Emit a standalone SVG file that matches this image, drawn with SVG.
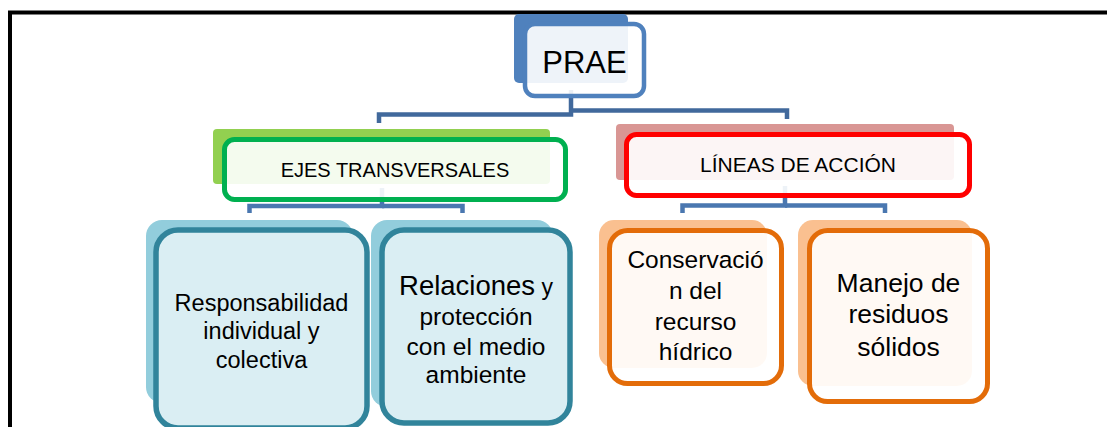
<svg xmlns="http://www.w3.org/2000/svg" width="1107" height="427" viewBox="0 0 1107 427">
<style>
  text { font-family: "Liberation Sans", Arial, sans-serif; fill: #000; text-anchor: middle; }
  .conn { fill: none; stroke-width: 4.5; stroke-linejoin: miter; }
  .top { stroke: #41699C; }
  .low { stroke: #4A77B0; }
  .front { fill: #FFFFFF; fill-opacity: 0.9; stroke-width: 4.5; }
  .front5 { stroke-width: 5; }
</style>
<rect x="0" y="0" width="1107" height="427" fill="#FFFFFF"/>
<path d="M10,440 V12.5 H1115" fill="none" stroke="#000" stroke-width="4"/>

<g id="connectors">
  <path class="conn top" d="M571,90 V114.5 H379 V123"/>
  <path class="conn top" d="M571,110.5 H787 V119"/>
  <path class="conn low" d="M382,188 V206 H249.5 V213"/>
  <path class="conn low" d="M382,206 H462.5 V213"/>
  <path class="conn low" d="M785,186 V205.5 H682.5 V213"/>
  <path class="conn low" d="M785,205.5 H885 V213"/>
</g>

<g id="prae">
  <rect x="514" y="14" width="114" height="69" rx="5" fill="#4F81BD"/>
  <rect class="front" x="525" y="24" width="119" height="72" rx="10" stroke="#4F81BD"/>
  <text x="584.5" y="73" font-size="31">PRAE</text>
</g>

<g id="ejes">
  <rect x="213" y="129" width="337" height="55" rx="4" fill="#92D050"/>
  <rect class="front front5" x="224.5" y="139.5" width="341" height="60" rx="10" stroke="#00B050"/>
  <text x="395" y="177" font-size="20">EJES TRANSVERSALES</text>
</g>

<g id="lineas">
  <rect x="616" y="124" width="338" height="56" rx="4" fill="#D99694"/>
  <rect class="front front5" x="626.5" y="134.5" width="343" height="61" rx="10" stroke="#FF0000"/>
  <text x="798" y="172" font-size="21">LÍNEAS DE ACCIÓN</text>
</g>

<g id="responsabilidad">
  <rect x="146" y="220" width="207" height="183" rx="16" fill="#92CDDC"/>
  <rect x="156" y="230" width="211" height="198" rx="22" fill="#DAEEF3" stroke="#31849B" stroke-width="5.5"/>
  <text x="261.5" font-size="23.5"><tspan x="261.5" y="311">Responsabilidad</tspan><tspan x="261.5" y="339">individual y</tspan><tspan x="261.5" y="368">colectiva</tspan></text>
</g>

<g id="relaciones">
  <rect x="371" y="220" width="182" height="187" rx="16" fill="#92CDDC"/>
  <rect x="382" y="230" width="188" height="193" rx="22" fill="#DAEEF3" stroke="#31849B" stroke-width="5.5"/>
  <text x="476" y="295"><tspan font-size="27.5">Relaciones</tspan><tspan font-size="23"> y</tspan></text>
  <text x="476" font-size="24.5"><tspan x="476" y="325">protección</tspan><tspan x="476" y="355">con el medio</tspan><tspan x="476" y="383">ambiente</tspan></text>
</g>

<g id="conservacion">
  <rect x="599" y="220" width="168" height="148" rx="15" fill="#FAC090"/>
  <rect class="front front5" x="609.5" y="230.5" width="172" height="153" rx="18" stroke="#E36C09"/>
  <text x="695.5" font-size="24.5"><tspan x="695.5" y="268">Conservació</tspan><tspan x="695.5" y="299">n del</tspan><tspan x="695.5" y="330">recurso</tspan><tspan x="695.5" y="360">hídrico</tspan></text>
</g>

<g id="manejo">
  <rect x="798" y="220" width="174" height="166" rx="15" fill="#FAC090"/>
  <rect class="front front5" x="809.5" y="230.5" width="178" height="171" rx="18" stroke="#E36C09"/>
  <text x="898.5" font-size="26.5"><tspan x="898.5" y="292">Manejo de</tspan><tspan x="898.5" y="323">residuos</tspan><tspan x="898.5" y="356">sólidos</tspan></text>
</g>
</svg>
